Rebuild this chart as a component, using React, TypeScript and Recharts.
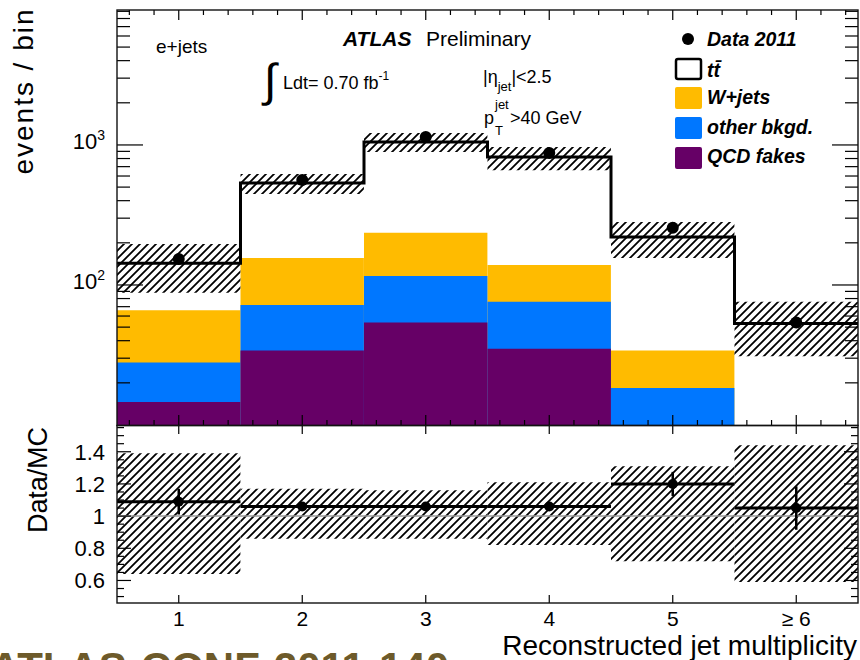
import { ComposedChart, Bar, Line, Scatter, XAxis, YAxis, ErrorBar, ReferenceLine } from 'recharts';

// jet multiplicity bins (centres) and their labels
const bins = [1, 2, 3, 4, 5, 6];
const binLabels = ['1', '2', '3', '4', '5', '\u2265 6'];

// upper panel: events / bin
const dataCounts = [153, 562, 1140, 875, 256, 54];
const mcTotal = [143, 535, 1050, 820, 220, 53];
const mcBandLo = [88, 447, 891, 661, 156, 31];
const mcBandHi = [196, 621, 1219, 967, 282, 76];
// cumulative heights of the background stack (QCD, +other, +W+jets)
const stackWjets = [66, 156, 236, 139, 34, null];
const stackOther = [28, 72, 116, 76, 18.4, null];
const stackQcd = [14.6, 34, 54, 35, null, null];

// lower panel: Data/MC
const ratio = [1.09, 1.06, 1.06, 1.06, 1.2, 1.05];
const ratioErr = [0.08, 0.02, 0.015, 0.02, 0.075, 0.135];
const ratioBandLo = [0.64, 0.86, 0.86, 0.82, 0.72, 0.59];
const ratioBandHi = [1.39, 1.17, 1.16, 1.21, 1.31, 1.44];

const logTicks = [20, 30, 40, 50, 60, 70, 80, 90, 100, 200, 300, 400, 500, 600, 700, 800, 900, 1000, 2000, 3000, 4000, 5000, 6000, 7000, 8000, 9000];

const upperXTicks: number[] = [];
for (let k = 3; k <= 32; k++) upperXTicks.push(Number((k * 0.2).toFixed(1)));
const ratioTicks: number[] = [];
for (let k = 10; k <= 31; k++) ratioTicks.push(Number((k * 0.05).toFixed(2)));

const upperRows = bins.map((x, i) => ({
  x,
  data: dataCounts[i],
  band: [mcBandLo[i], mcBandHi[i]],
  w: stackWjets[i],
  o: stackOther[i],
  q: stackQcd[i],
}));
const stepRows = [...bins.map((x, i) => ({ x: x - 0.5, mc: mcTotal[i] })), { x: 6.5, mc: mcTotal[5] }];
const lowerRows = bins.map((x, i) => ({
  x,
  r: ratio[i],
  rErr: ratioErr[i],
  xErr: 0.5,
  band: [ratioBandLo[i], ratioBandHi[i]],
}));

const FONT = '"Liberation Sans", Arial, Helvetica, sans-serif';
const PL = 117;
const PR = 858;
const TOP_H = 426;
const LOW_H = 234;
const LOW_PLOT_B = 177;
const BAR_W = 123.4;
const W_COL = '#ffbb00';
const O_COL = '#0077ff';
const Q_COL = '#660066';

function UpperYTick({ y, payload }: any) {
  const v = payload.value;
  const e = Math.round(Math.log10(v));
  const major = Math.abs(Math.log10(v) - e) < 1e-6;
  const len = major ? 26 : 13;
  return (
    <g>
      <line x1={PL} x2={PL + len} y1={y} y2={y} stroke="#000" strokeWidth={1.2} />
      <line x1={PR - len} x2={PR} y1={y} y2={y} stroke="#000" strokeWidth={1.2} />
      {major && (
        <text x={105} y={y + 4} textAnchor="end" fontSize={22} fontFamily={FONT} fill="#000">
          10<tspan dy={-9} fontSize={14}>{e}</tspan>
        </text>
      )}
    </g>
  );
}

function UpperXTick({ x, payload }: any) {
  const major = Number.isInteger(payload.value);
  const len = major ? 10 : 5;
  return (
    <g>
      <line x1={x} x2={x} y1={10} y2={10 + len} stroke="#000" strokeWidth={1.2} />
      <line x1={x} x2={x} y1={TOP_H - 1 - len} y2={TOP_H - 1} stroke="#000" strokeWidth={1.2} />
    </g>
  );
}

function LowerYTick({ y, payload }: any) {
  const k = Math.round(payload.value * 20);
  const major = k % 4 === 0 && k >= 12 && k <= 28;
  const len = major ? 14 : 7;
  return (
    <g>
      <line x1={PL} x2={PL + len} y1={y} y2={y} stroke="#000" strokeWidth={1.2} />
      <line x1={PR - len} x2={PR} y1={y} y2={y} stroke="#000" strokeWidth={1.2} />
      {major && (
        <text x={105} y={y + 8} textAnchor="end" fontSize={22} fontFamily={FONT} fill="#000">
          {String(payload.value)}
        </text>
      )}
    </g>
  );
}

function LowerXTick({ x, payload, index }: any) {
  return (
    <g>
      <line x1={x} x2={x} y1={0} y2={8} stroke="#000" strokeWidth={1.2} />
      <line x1={x} x2={x} y1={LOW_PLOT_B - 8} y2={LOW_PLOT_B} stroke="#000" strokeWidth={1.2} />
      <text x={x} y={200} textAnchor="middle" fontSize={21} fontFamily={FONT} fill="#000">
        {binLabels[index] ?? String(payload.value)}
      </text>
    </g>
  );
}

const bigDot = (p: any) => <circle cx={p.cx} cy={p.cy} r={6} fill="#000" />;
const smallDot = (p: any) => <circle cx={p.cx} cy={p.cy} r={5} fill="#000" />;

function Overlay() {
  const t = { fontFamily: FONT, fill: '#000' } as const;
  const bi = { ...t, fontWeight: 700, fontStyle: 'italic' } as const;
  return (
    <svg width={860} height={660} style={{ position: 'absolute', left: 0, top: 0, pointerEvents: 'none' }}>
      <rect x={PL} y={10} width={PR - PL} height={415.5} fill="none" stroke="#111" strokeWidth={1.4} />
      <rect x={PL} y={425.5} width={PR - PL} height={177.5} fill="none" stroke="#111" strokeWidth={1.4} />

      <text x={33} y={92} transform="rotate(-90 33 92)" textAnchor="middle" fontSize={28} textLength={165} {...t}>
        events / bin
      </text>
      <text x={47} y={480} transform="rotate(-90 47 480)" textAnchor="middle" fontSize={27} textLength={106} {...t}>
        Data/MC
      </text>
      <text x={857} y={655} textAnchor="end" fontSize={28} {...t}>
        Reconstructed jet multiplicity
      </text>

      <text x={156} y={53} fontSize={19} {...t}>e+jets</text>
      <text x={343} y={46} fontSize={21} {...bi}>ATLAS</text>
      <text x={426} y={46} fontSize={21} {...t}>Preliminary</text>
      <text x={264} y={96} fontSize={46} {...t}>{'\u222B'}</text>
      <text x={283} y={89} fontSize={18} {...t}>
        Ldt= 0.70 fb<tspan dy={-9} fontSize={12}>-1</tspan>
      </text>
      <text x={483} y={83} fontSize={18} {...t}>
        |&#951;<tspan dy={8} fontSize={13}>jet</tspan><tspan dy={-8}>|&lt;2.5</tspan>
      </text>
      <text x={484} y={124} fontSize={18} {...t}>p</text>
      <text x={495} y={109} fontSize={13} {...t}>jet</text>
      <text x={495} y={135} fontSize={13} {...t}>T</text>
      <text x={510} y={124} fontSize={18} {...t}>&gt;40 GeV</text>

      <circle cx={688} cy={39} r={6} fill="#000" />
      <text x={707} y={46} fontSize={19.5} {...bi}>Data 2011</text>
      <rect x={676} y={59} width={25} height={20} rx={2} fill="#fff" stroke="#000" strokeWidth={2.5} />
      <text x={707} y={77} fontSize={19.5} {...bi}>t{'t\u0304'}</text>
      <rect x={675} y={87} width={27} height={22} rx={2} fill={W_COL} />
      <text x={707} y={104} fontSize={19.5} {...bi}>W+jets</text>
      <rect x={675} y={117} width={27} height={22} rx={2} fill={O_COL} />
      <text x={707} y={134} fontSize={19.5} {...bi}>other bkgd.</text>
      <rect x={675} y={147} width={27} height={22} rx={2} fill={Q_COL} />
      <text x={707} y={163} fontSize={19.5} {...bi}>QCD fakes</text>

      <text x={-10} y={682} fontSize={42} fontWeight={700} fontFamily={FONT} fill="#6d5a2a">
        ATLAS-CONF-2011-140
      </text>
    </svg>
  );
}

export default function App() {
  return (
    <div style={{ position: 'absolute', left: 0, top: 0, width: 860, height: 660, background: '#fff', overflow: 'hidden' }}>
      <svg width={0} height={0} style={{ position: 'absolute' }}>
        <defs>
          <pattern id="hatch" patternUnits="userSpaceOnUse" width={8} height={8}>
            <path d="M-2,2 l4,-4 M0,8 l8,-8 M6,10 l4,-4" stroke="#000" strokeWidth={1.8} />
          </pattern>
        </defs>
      </svg>

      <div style={{ position: 'absolute', left: 0, top: 0 }}>
        <ComposedChart width={860} height={TOP_H} data={upperRows} margin={{ top: 10, right: 2, bottom: 0, left: 57 }}>
          <XAxis dataKey="x" type="number" domain={[0.5, 6.5]} ticks={upperXTicks} interval={0}
            height={1} tick={<UpperXTick />} tickLine={false} axisLine={false} allowDataOverflow />
          <XAxis xAxisId="w" dataKey="x" type="number" domain={[0.5, 6.5]} hide />
          <XAxis xAxisId="o" dataKey="x" type="number" domain={[0.5, 6.5]} hide />
          <XAxis xAxisId="q" dataKey="x" type="number" domain={[0.5, 6.5]} hide />
          <XAxis xAxisId="b" dataKey="x" type="number" domain={[0.5, 6.5]} hide />
          <YAxis scale="log" domain={[10, 9200]} ticks={logTicks} interval={0} width={60}
            tick={<UpperYTick />} tickLine={false} axisLine={false} allowDataOverflow />
          <Bar xAxisId="w" dataKey="w" fill={W_COL} barSize={BAR_W} isAnimationActive={false} />
          <Bar xAxisId="o" dataKey="o" fill={O_COL} barSize={BAR_W} isAnimationActive={false} />
          <Bar xAxisId="q" dataKey="q" fill={Q_COL} barSize={BAR_W} isAnimationActive={false} />
          <Bar xAxisId="b" dataKey="band" fill="url(#hatch)" barSize={BAR_W} isAnimationActive={false} />
          <Line data={stepRows} dataKey="mc" type="stepAfter" stroke="#000" strokeWidth={3}
            dot={false} activeDot={false} isAnimationActive={false} />
          <Scatter data={upperRows} dataKey="data" shape={bigDot} isAnimationActive={false} />
        </ComposedChart>
      </div>

      <div style={{ position: 'absolute', left: 0, top: TOP_H }}>
        <ComposedChart width={860} height={LOW_H} data={lowerRows} margin={{ top: 0, right: 2, bottom: 0, left: 57 }}>
          <XAxis dataKey="x" type="number" domain={[0.5, 6.5]} ticks={bins} interval={0}
            height={LOW_H - LOW_PLOT_B} tick={<LowerXTick />} tickLine={false} axisLine={false} allowDataOverflow />
          <YAxis domain={[0.46, 1.56]} ticks={ratioTicks} interval={0} width={60}
            tick={<LowerYTick />} tickLine={false} axisLine={false} allowDataOverflow />
          <Bar dataKey="band" fill="url(#hatch)" barSize={BAR_W} isAnimationActive={false} />
          <ReferenceLine y={1} stroke="#999" strokeWidth={1.5} />
          <Scatter data={lowerRows} dataKey="r" shape={smallDot} isAnimationActive={false}>
            <ErrorBar dataKey="xErr" direction="x" width={0} stroke="#000" strokeWidth={3} />
            <ErrorBar dataKey="rErr" direction="y" width={0} stroke="#000" strokeWidth={2.5} />
          </Scatter>
        </ComposedChart>
      </div>

      <Overlay />
    </div>
  );
}
